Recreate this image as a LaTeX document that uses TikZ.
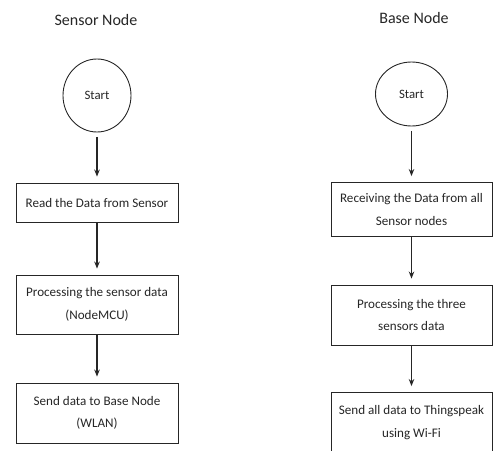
\documentclass[tikz,border=0pt]{standalone}
\usepackage{fontspec}
\setmainfont{Carlito}
\usetikzlibrary{positioning}
\usetikzlibrary{shapes.geometric}
\usetikzlibrary{arrows.meta}
\definecolor{lineColor}{rgb}{0.3,0.3,0.3}
\definecolor{textColor}{rgb}{0.15,0.15,0.15}

\begin{document}
\begin{tikzpicture}[x=1pt,y=-1pt]

          \tikzstyle{titleNode} = [textColor, font=\fontsize{16}{19}\selectfont];
          \tikzstyle{startNode} = [ellipse, draw=lineColor, line width=0.9pt, textColor, inner sep=0pt, font=\fontsize{12.8}{15}\selectfont];
          \tikzstyle{stepNode} = [rectangle, draw=lineColor, line width=0.9pt, textColor, inner sep=0pt, align=center, font=\fontsize{13.1}{22.5}\selectfont];

          \tikzstyle{flowEdge} = [line width=1.2pt, black!85, -{Stealth[length=7pt,width=5.5pt]}, shorten >=6pt];
          \tikzstyle{startEdge} = [flowEdge, shorten <=4.5pt];

          \useasboundingbox (0,0) rectangle (494,450);
          \clip (0,0) rectangle (494,450);

          % sensor node side
          \node[titleNode] (sensorTitle) at (96,20) {Sensor Node};
          \node[startNode, minimum width=68pt, minimum height=73pt] (sensorStart) at (97,95.5) {Start};
          \node[stepNode, minimum width=162pt, minimum height=39pt] (sensorRead) at (97,202.5) {Read the Data from Sensor};
          \node[stepNode, minimum width=162pt, minimum height=59pt] (sensorProc) at (97,304.5) {Processing the sensor data\\(NodeMCU)};
          \node[stepNode, minimum width=162pt, minimum height=60pt] (sensorSend) at (97,413) {Send data to Base Node\\(WLAN)};

          % base node side
          \node[titleNode] (baseTitle) at (414,18) {Base Node};
          \node[startNode, minimum width=72pt, minimum height=64pt] (baseStart) at (411.5,94) {Start};
          \node[stepNode, minimum width=161pt, minimum height=54pt] (baseRecv) at (411.5,209.5) {Receiving the Data from all\\Sensor nodes};
          \node[stepNode, minimum width=161pt, minimum height=60pt] (baseProc) at (411.5,315) {Processing the three\\sensors data};
          \node[stepNode, minimum width=161pt, minimum height=60pt] (baseSend) at (411.5,422.5) {Send all data to Thingspeak\\using Wi-Fi};

          \draw[startEdge] (sensorStart) -- (sensorRead);
          \draw[flowEdge] (sensorRead) -- (sensorProc);
          \draw[flowEdge] (sensorProc) -- (sensorSend);

          \draw[startEdge] (baseStart) -- (baseRecv);
          \draw[flowEdge] (baseRecv) -- (baseProc);
          \draw[flowEdge] (baseProc) -- (baseSend);
        \end{tikzpicture}
\end{document}
